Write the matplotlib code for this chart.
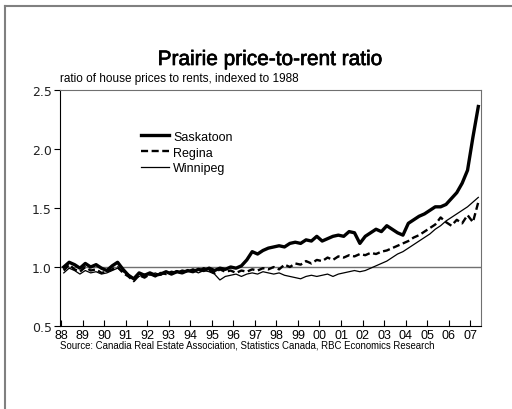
import numpy as np
import matplotlib.pyplot as plt
from matplotlib.lines import Line2D
import matplotlib.patheffects as pe

# quarterly readings, Q1 1988 to Q2 2007 (plotted at mid-quarter)
saskatoon = [
    1.00, 1.04, 1.02, 0.99,  1.03, 1.00, 1.02, 0.99,  0.97, 1.01, 1.04, 0.98,
    0.93, 0.90, 0.95, 0.93,  0.95, 0.93, 0.94, 0.96,  0.94, 0.96, 0.95, 0.97,
    0.96, 0.98, 0.97, 0.99,  0.97, 0.99, 0.98, 1.00,  0.99, 1.01, 1.06, 1.13,
    1.11, 1.14, 1.16, 1.17,  1.18, 1.17, 1.20, 1.21,  1.20, 1.23, 1.22, 1.26,
    1.22, 1.24, 1.26, 1.27,  1.26, 1.30, 1.29, 1.20,  1.26, 1.29, 1.32, 1.30,
    1.35, 1.32, 1.29, 1.27,  1.37, 1.40, 1.43, 1.45,  1.48, 1.51, 1.51, 1.53,
    1.58, 1.63, 1.71, 1.82,  2.10, 2.36,
]
regina = [
    0.97, 1.02, 0.98, 0.96,  1.00, 0.97, 0.98, 0.95,  0.96, 0.98, 1.00, 0.95,
    0.92, 0.88, 0.93, 0.91,  0.94, 0.92, 0.95, 0.94,  0.96, 0.95, 0.97, 0.96,
    0.98, 0.96, 0.99, 0.97,  0.95, 0.98, 0.96, 0.97,  0.95, 0.97, 0.96, 0.98,
    0.97, 0.99, 0.98, 1.00,  0.98, 1.02, 1.00, 1.03,  1.02, 1.05, 1.03, 1.06,
    1.05, 1.08, 1.06, 1.09,  1.08, 1.10, 1.09, 1.11,  1.10, 1.12, 1.11, 1.13,
    1.14, 1.16, 1.18, 1.20,  1.22, 1.25, 1.27, 1.30,  1.33, 1.36, 1.42, 1.38,
    1.35, 1.40, 1.37, 1.44,  1.38, 1.55,
]
winnipeg = [
    0.95, 0.99, 0.97, 0.94,  0.97, 0.95, 0.96, 0.94,  0.95, 0.97, 0.99, 0.96,
    0.94, 0.90, 0.92, 0.94,  0.93, 0.95, 0.93, 0.96,  0.95, 0.97, 0.95, 0.96,
    0.97, 0.95, 0.97, 0.96,  0.94, 0.89, 0.92, 0.93,  0.94, 0.92, 0.94, 0.95,
    0.94, 0.96, 0.95, 0.94,  0.95, 0.93, 0.92, 0.91,  0.90, 0.92, 0.93, 0.92,
    0.93, 0.94, 0.92, 0.94,  0.95, 0.96, 0.97, 0.96,  0.97, 0.99, 1.01, 1.03,
    1.05, 1.08, 1.11, 1.13,  1.16, 1.19, 1.22, 1.25,  1.28, 1.32, 1.35, 1.39,
    1.42, 1.45, 1.48, 1.51,  1.55, 1.59,
]
year_labels = ['88', '89', '90', '91', '92', '93', '94', '95', '96', '97',
               '98', '99', '00', '01', '02', '03', '04', '05', '06', '07']

t = 1988.125 + 0.25 * np.arange(len(saskatoon))

narrow = 'Liberation Sans'

fig = plt.figure(figsize=(5.12, 4.10), dpi=100)
ax = fig.add_axes([60 / 512, 1 - 327 / 410, 421 / 512, 236 / 410])

ax.axhline(1.0, color='#707070', linewidth=1.0, zorder=1)
ax.plot(t, saskatoon, color='black', linewidth=2.4, label='Saskatoon', zorder=4)
ax.plot(t, regina, color='black', linewidth=1.7, linestyle=(0, (3, 1.5)), label='Regina', zorder=3)
ax.plot(t, winnipeg, color='black', linewidth=0.9, label='Winnipeg', zorder=2)

ax.set_xlim(1987.95, 2007.5)
ax.set_ylim(0.5, 2.5)
ax.set_yticks([0.5, 1.0, 1.5, 2.0, 2.5])
ax.set_yticklabels(['0.5', '1.0', '1.5', '2.0', '2.5'], fontsize=9, color='#222222')
ax.set_xticks(np.arange(1988, 2008))
ax.set_xticklabels(year_labels, fontsize=9, family=narrow)
ax.tick_params(axis='y', direction='out', length=4, width=0.8, pad=2)
ax.tick_params(axis='x', direction='in', length=4, width=0.8, pad=2)

for s in ['top', 'right']:
    ax.spines[s].set_color('#707070')
for s in ['left', 'bottom']:
    ax.spines[s].set_color('black')

leg = ax.legend(loc='upper left', bbox_to_anchor=(0.165, 0.875), frameon=False,
                handlelength=2.3, handletextpad=0.3, labelspacing=0.3,
                prop={'family': narrow, 'size': 9})

fig.text(270 / 512, 1 - 66 / 410, 'Prairie price-to-rent ratio', ha='center', va='baseline',
         fontsize=15, family=narrow, color='black',
         path_effects=[pe.withStroke(linewidth=0.5, foreground='black')])
fig.text(60 / 512, 1 - 79 / 410, 'ratio of house prices to rents, indexed to 1988',
         ha='left', va='center', fontsize=8.5, family=narrow)
fig.text(60 / 512, 1 - 346 / 410,
         'Source: Canadia Real Estate Association, Statistics Canada, RBC Economics Research',
         ha='left', va='center', fontsize=6.9, family=narrow)

# outer frame (left and top edges)
fig.add_artist(Line2D([5 / 512, 5 / 512], [0, 1 - 7 / 410], transform=fig.transFigure,
                      color='#808080', linewidth=1.5))
fig.add_artist(Line2D([5 / 512, 1], [1 - 7 / 410, 1 - 7 / 410], transform=fig.transFigure,
                      color='#808080', linewidth=1.5))

fig.savefig('out.png', dpi=100)
